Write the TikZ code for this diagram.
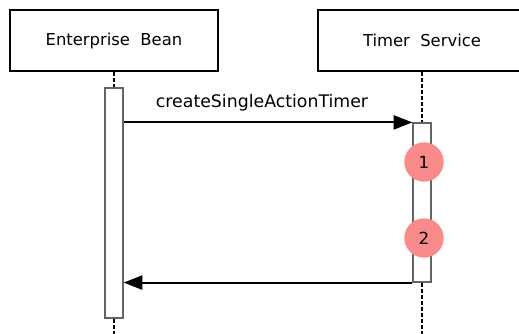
\documentclass[tikz,border=0pt]{standalone}
\usepackage{fontspec}
\setmainfont{DejaVu Sans}
\usetikzlibrary{arrows.meta}

\tikzset{
  lifebox/.style={draw,line width=1.6pt,minimum width=156pt,minimum height=45.75pt,font=\fontsize{12.3}{14}\selectfont},
  actbox/.style={draw={rgb,255:red,100;green,100;blue,100},fill=white,line width=0.9pt,minimum width=13.5pt,inner sep=0pt},
  lifeline/.style={line width=1.5pt,dash pattern=on 3pt off 1.5pt},
  msg/.style={line width=1.6pt,-{Triangle[length=14pt,width=10.5pt]}},
  stepmark/.style={circle,fill={rgb,255:red,248;green,138;blue,138},minimum size=29.5pt,inner sep=0pt,font=\fontsize{12.5}{14}\selectfont}
}

\begin{document}
\begin{tikzpicture}[x=0.75pt,y=0.75pt,yscale=-1,xscale=1]
\useasboundingbox (0,0) rectangle (519,334);

%Shape: Rectangle
\node [lifebox] (bean) at (114,40.5) {Enterprise\ \ Bean};
%Shape: Rectangle
\node [lifebox] (timer) at (422,40.5) {Timer\ \ Service};

%Shape: Rectangle
\node [actbox,minimum height=172.5pt] (beanAct) at (114,203) {};
%Shape: Rectangle
\node [actbox,minimum height=119.25pt] (timerAct) at (422,202.5) {};

\coordinate (beanEnd) at (114,334);
\coordinate (timerEnd) at (422,334);

%Straight Lines
\draw [lifeline] (bean.south) -- (beanAct.north);
\draw [lifeline] (beanAct.south) -- (beanEnd);
\draw [lifeline] (timer.south) -- (timerAct.north);
\draw [lifeline] (timerAct.south) -- (timerEnd);

%Straight Lines
\draw [msg] (beanAct.east |- timerAct.north west) -- (timerAct.north west);
\draw [msg] (timerAct.south west) -- (beanAct.east |- timerAct.south west);

% Text Node
\node [font=\fontsize{13}{15}\selectfont] (msglbl) at (262,103) {createSingleActionTimer};

%Shape: Circle
\node [stepmark] (one) at (424,162) {1};
%Shape: Circle
\node [stepmark] (two) at (424,238) {2};

\end{tikzpicture}
\end{document}
